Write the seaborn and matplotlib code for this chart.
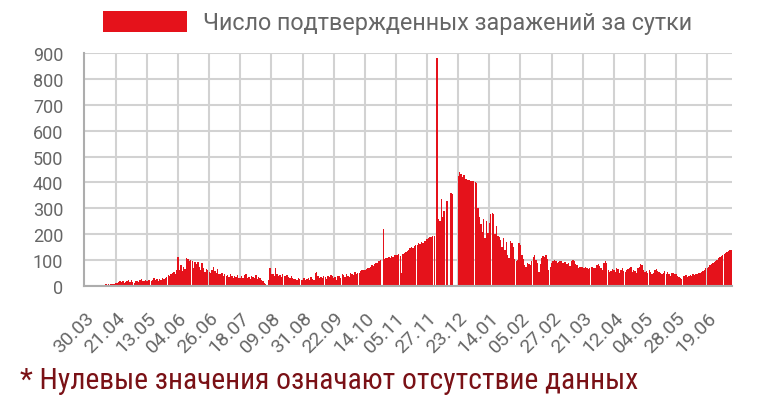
import pandas as pd
import matplotlib
matplotlib.use("Agg")
import matplotlib.pyplot as plt
from matplotlib import font_manager
from matplotlib.patches import Patch
import seaborn as sns

# daily confirmed cases in blocks of 22 days (one grid cell each)
cases_block_00 = [0, 0, 0, 0, 0, 0, 1, 2, 2, 3, 3, 4, 4, 5, 5, 6, 5, 7, 6, 8, 7, 9]
cases_block_01 = [10, 12, 15, 18, 14, 20, 12, 15, 18, 22, 16, 25, 14, 12, 18, 20, 15, 22, 28, 18, 20, 24]
cases_block_02 = [20, 22, 25, 18, 24, 30, 22, 26, 20, 28, 25, 30, 28, 32, 35, 42, 38, 45, 50, 55, 48, 62]
cases_block_03 = [112, 62, 80, 58, 72, 66, 108, 104, 98, 100, 96, 70, 92, 85, 94, 75, 60, 88, 70, 55, 65, 62]
cases_block_04 = [55, 50, 62, 72, 58, 50, 65, 45, 48, 52, 40, 45, 38, 42, 35, 45, 38, 32, 40, 35, 42, 30]
cases_block_05 = [32, 38, 30, 42, 46, 30, 35, 28, 40, 36, 30, 44, 28, 36, 30, 25, 20, 12, 6, 4, 25, 70]
cases_block_06 = [45, 48, 40, 70, 45, 38, 42, 35, 46, 40, 38, 44, 36, 30, 40, 32, 26, 28, 25, 30, 27, 24]
cases_block_07 = [25, 30, 22, 28, 32, 25, 35, 28, 24, 50, 54, 38, 32, 36, 30, 40, 34, 28, 38, 35, 42, 40]
cases_block_08 = [30, 35, 25, 40, 38, 32, 45, 42, 36, 48, 40, 35, 50, 45, 42, 55, 48, 52, 50, 58, 62, 60]
cases_block_09 = [62, 65, 70, 68, 75, 80, 78, 85, 90, 88, 95, 100, 0, 220, 105, 108, 110, 112, 108, 115, 112, 118]
cases_block_10 = [118, 120, 122, 115, 50, 125, 128, 130, 135, 140, 145, 150, 148, 155, 160, 158, 165, 162, 170, 168, 172, 175]
cases_block_11 = [182, 185, 188, 190, 192, 195, 0, 880, 260, 250, 335, 265, 290, 0, 330, 0, 0, 360, 355, 0, 0, 0]
cases_block_12 = [425, 440, 432, 420, 428, 415, 412, 410, 408, 405, 406, 404, 402, 398, 300, 265, 240, 210, 260, 185, 250, 205]
cases_block_13 = [245, 280, 282, 278, 200, 230, 195, 190, 178, 150, 185, 140, 170, 120, 110, 175, 165, 150, 105, 95, 100, 168]
cases_block_14 = [160, 120, 105, 80, 75, 90, 85, 80, 95, 112, 118, 100, 90, 55, 85, 110, 115, 112, 118, 105, 60, 75]
cases_block_15 = [88, 95, 100, 98, 90, 92, 96, 95, 88, 94, 92, 85, 90, 78, 95, 100, 98, 85, 80, 70, 72, 75]
cases_block_16 = [75, 70, 72, 68, 65, 70, 74, 72, 70, 68, 80, 85, 78, 70, 62, 88, 95, 90, 60, 55, 58, 65]
cases_block_17 = [60, 55, 68, 65, 50, 62, 70, 58, 55, 60, 65, 68, 75, 55, 62, 58, 52, 70, 72, 85, 80, 60]
cases_block_18 = [55, 58, 50, 62, 55, 48, 52, 60, 65, 58, 55, 50, 45, 52, 58, 48, 55, 45, 40, 50, 52, 48]
cases_block_19 = [45, 40, 35, 30, 28, 38, 40, 42, 35, 38, 42, 40, 45, 42, 48, 45, 50, 52, 55, 58, 62, 68]
cases_block_20 = [70, 75, 80, 85, 88, 92, 98, 102, 108, 112, 115, 120, 125, 128, 132, 135, 138, 140]

cases = (cases_block_00 + cases_block_01 + cases_block_02 + cases_block_03 + cases_block_04
         + cases_block_05 + cases_block_06 + cases_block_07 + cases_block_08 + cases_block_09
         + cases_block_10 + cases_block_11 + cases_block_12 + cases_block_13 + cases_block_14
         + cases_block_15 + cases_block_16 + cases_block_17 + cases_block_18 + cases_block_19
         + cases_block_20)

# dates that are not listed in the source table at all
missing_days = ["2020-12-13", "2020-12-14", "2020-12-15", "2020-12-16", "2021-05-09", "2021-05-10"]
days = pd.date_range("2020-03-30", "2021-07-06", freq="D")
days = days[~days.isin(pd.to_datetime(missing_days))]
day_labels = list(days.strftime("%d.%m"))

legend_label = "Число подтвержденных заражений за сутки"
footnote = "* Нулевые значения означают отсутствие данных"

df = pd.DataFrame({"day": range(len(cases)), "cases": cases})

sns.set_style("white")
plt.rcParams["font.family"] = ["Roboto", "DejaVu Sans"]

# a narrow face for the footnote if one is installed, otherwise plain Roboto
narrow_font = "Roboto"
for fam in ["Roboto Condensed", "Open Sans Condensed", "DejaVu Sans Condensed",
            "Liberation Sans Narrow"]:
    try:
        font_manager.findfont(font_manager.FontProperties(family=fam),
                              fallback_to_default=False)
        narrow_font = fam
        break
    except ValueError:
        pass

fig = plt.figure(figsize=(7.67, 4.02), dpi=100)
ax = fig.add_axes([84 / 767, 1 - 287 / 402, 648 / 767, 233 / 402])

bar_red = "#e5121b"
sns.barplot(data=df, x="day", y="cases", color=bar_red, saturation=1,
            width=0.95, linewidth=0, ax=ax)

ax.set_xlim(-0.5, len(cases) - 0.5)
ax.set_ylim(0, 900)
ax.set_yticks(range(0, 901, 100))
tick_pos = list(range(0, len(cases), 22))
ax.set_xticks(tick_pos)
ax.set_xticklabels([day_labels[i] for i in tick_pos], rotation=45,
                   ha="right", va="top", rotation_mode="anchor")

grid_grey = "#d2d2d2"
ax.set_axisbelow(True)
ax.yaxis.grid(True, color=grid_grey, linewidth=1.5)
# seaborn switches off the grid on the category axis, so draw those lines here
ax.vlines(tick_pos[1:], 0, 1, transform=ax.get_xaxis_transform(),
          colors=grid_grey, linewidth=1.5, zorder=0.6)
ax.tick_params(axis="both", colors=grid_grey, width=1.5, length=13,
               labelcolor="#666666", labelsize=13, pad=2)
ax.tick_params(axis="x", labelsize=14, pad=3)
for side in ["top", "right"]:
    ax.spines[side].set_visible(False)
for side in ["left", "bottom"]:
    ax.spines[side].set_color("#adadad")
    ax.spines[side].set_linewidth(1.5)
ax.set_xlabel("")
ax.set_ylabel("")

fig.legend(handles=[Patch(facecolor=bar_red, edgecolor="none")], labels=[legend_label],
           loc="center left", bbox_to_anchor=(103 / 767, 1 - 23.5 / 402),
           frameon=False, fontsize=16.8, handlelength=3.6, handleheight=1.07,
           handletextpad=0.7, borderpad=0, borderaxespad=0, labelcolor="#666666")

note = fig.text(20 / 767, 1 - 381 / 402, footnote, color="#7a1116", fontsize=24,
                va="center", ha="left", family=[narrow_font, "DejaVu Sans"])
# fit the footnote to the width it has in the original (about 620 px)
fig.canvas.draw()
note_width = note.get_window_extent().width
note.set_fontsize(24 * 620 / note_width)

fig.savefig("out.png", dpi=100)
